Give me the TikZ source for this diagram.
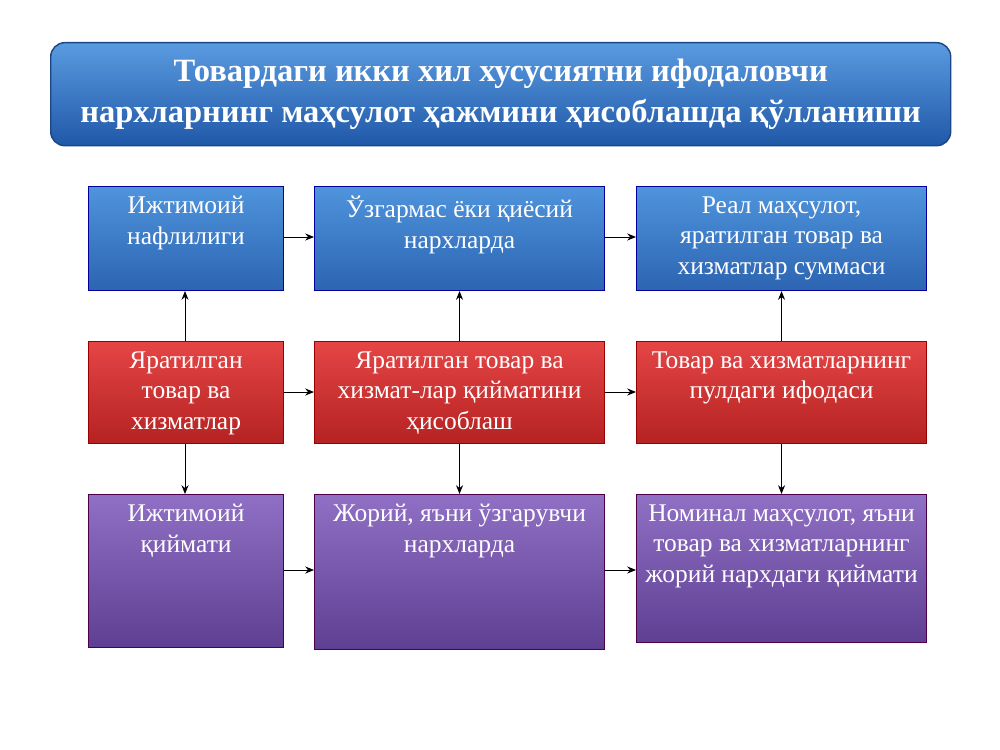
\documentclass[tikz,border=0pt]{standalone}
\usepackage{fontspec}
\setmainfont{Liberation Serif}
\usetikzlibrary{arrows.meta}
\begin{document}
\begin{tikzpicture}[x=0.02cm,y=-0.02cm,
 box/.style={draw=#1!60!black,line width=0.6pt,anchor=north west,inner sep=0pt},
 bluebox/.style={box=blue,top color=blue1,bottom color=blue2},
 redbox/.style={box=red,top color=red1,bottom color=red2},
 purbox/.style={box=violet,top color=pur1,bottom color=pur2},
 txt/.style={anchor=north,text=white,align=center,font=\fontsize{14.5}{17.5}\selectfont,inner sep=0pt},
 arr/.style={-{Stealth[length=5pt,width=4pt]},line width=0.5pt}]
\definecolor{blue1}{HTML}{4F94DC}\definecolor{blue2}{HTML}{2C64B2}
\definecolor{red1}{HTML}{E54545}\definecolor{red2}{HTML}{B52222}
\definecolor{pur1}{HTML}{9070C4}\definecolor{pur2}{HTML}{5F3F92}
\definecolor{t1}{HTML}{5A9BE0}\definecolor{t2}{HTML}{2058A8}
\useasboundingbox (0,0) rectangle (1000,750);
\node[anchor=north west,minimum width=900*0.02cm,minimum height=103*0.02cm,rounded corners=8pt,top color=t1,bottom color=t2,draw=t2!80!black,line width=0.8pt] (title) at (50,42) {};
\node[text=white,align=center,font=\fontsize{18.5}{23}\selectfont\bfseries] at (title.center) {Товардаги икки хил хусусиятни ифодаловчи\\нархларнинг маҳсулот ҳажмини ҳисоблашда қўлланиши};
% row 1
\node[bluebox,minimum width=195*0.02cm,minimum height=104*0.02cm] (a1) at (88,186) {};
\node[bluebox,minimum width=290*0.02cm,minimum height=104*0.02cm] (a2) at (314,186) {};
\node[bluebox,minimum width=290*0.02cm,minimum height=104*0.02cm] (a3) at (636,186) {};
% row 2
\node[redbox,minimum width=195*0.02cm,minimum height=102*0.02cm] (b1) at (88,341) {};
\node[redbox,minimum width=290*0.02cm,minimum height=102*0.02cm] (b2) at (314,341) {};
\node[redbox,minimum width=290*0.02cm,minimum height=102*0.02cm] (b3) at (636,341) {};
% row 3
\node[purbox,minimum width=195*0.02cm,minimum height=153*0.02cm] (c1) at (88,494) {};
\node[purbox,minimum width=290*0.02cm,minimum height=155*0.02cm] (c2) at (314,494) {};
\node[purbox,minimum width=290*0.02cm,minimum height=148*0.02cm] (c3) at (636,494) {};
% texts
\node[txt] at ([yshift=-0.2cm]a1.north) {Ижтимоий\\нафлилиги};
\node[txt] at ([yshift=-0.2cm]a2.north) {Ўзгармас ёки қиёсий\\нархларда};
\node[txt] at ([yshift=-0.2cm]a3.north) {Реал маҳсулот,\\яратилган товар ва\\хизматлар суммаси};
\node[txt] at ([yshift=-0.2cm]b1.north) {Яратилган\\товар ва\\хизматлар};
\node[txt] at ([yshift=-0.2cm]b2.north) {Яратилган товар ва\\хизмат-лар қийматини\\ҳисоблаш};
\node[txt] at ([yshift=-0.2cm]b3.north) {Товар ва хизматларнинг\\пулдаги ифодаси};
\node[txt] at ([yshift=-0.2cm]c1.north) {Ижтимоий\\қиймати};
\node[txt] at ([yshift=-0.2cm]c2.north) {Жорий, яъни ўзгарувчи\\нархларда};
\node[txt] at ([yshift=-0.2cm]c3.north) {Номинал маҳсулот, яъни\\товар ва хизматларнинг\\жорий нархдаги қиймати};
% arrows
\draw[arr] (a1.east|-0,237) -- (a2.west|-0,237);
\draw[arr] (a2.east|-0,237) -- (a3.west|-0,237);
\draw[arr] (b1.east|-0,392) -- (b2.west|-0,392);
\draw[arr] (b2.east|-0,392) -- (b3.west|-0,392);
\draw[arr] (c1.east|-0,570) -- (c2.west|-0,570);
\draw[arr] (c2.east|-0,570) -- (c3.west|-0,570);
\draw[arr] (185,341) -- (a1.south-|185,0);
\draw[arr] (b2.north) -- (a2.south);
\draw[arr] (b3.north) -- (a3.south);
\draw[arr] (b1.south-|185,0) -- (c1.north-|185,0);
\draw[arr] (b2.south) -- (c2.north);
\draw[arr] (b3.south) -- (c3.north);
\end{tikzpicture}
\end{document}
